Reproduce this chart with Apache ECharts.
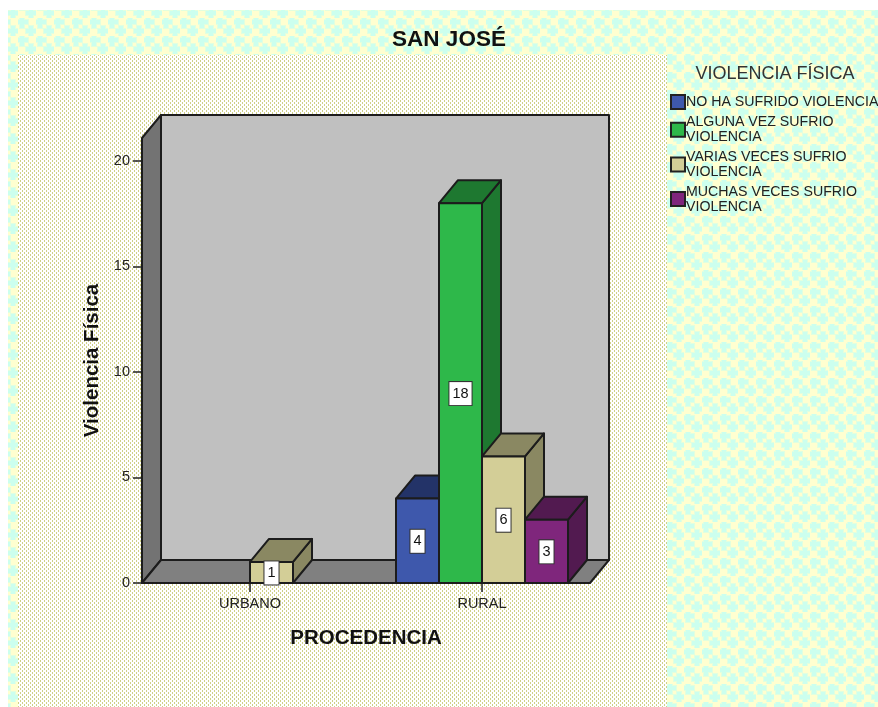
<!DOCTYPE html>
<html>
<head>
<meta charset="utf-8">
<style>html,body{margin:0;padding:0;background:#fff}#c{width:878px;height:707px}</style>
<script src="https://cdn.jsdelivr.net/npm/echarts@6/dist/echarts.min.js"></script>
</head>
<body>
<div id="c"></div>
<script>
const categories = ['URBANO', 'RURAL'];
const noHaSufrido = [null, 4];
const algunaVez = [null, 18];
const variasVeces = [1, 6];
const muchasVeces = [null, 3];
const seriesNames = ['NO HA SUFRIDO VIOLENCIA', 'ALGUNA VEZ SUFRIO\nVIOLENCIA', 'VARIAS VECES SUFRIO\nVIOLENCIA', 'MUCHAS VECES SUFRIO\nVIOLENCIA'];
const yTicks = [0, 5, 10, 15, 20];
const yMax = 21.09;

const FONT = '"Liberation Sans", Arial, sans-serif';
const EDGE = '#1c1c1c';
const DX = 19, DY = 23, BAR_W = 43, INSET = 8;

function outerTile() {
  const c = document.createElement('canvas'); c.width = 18; c.height = 18;
  const g = c.getContext('2d');
  g.fillStyle = '#FFFFD0'; g.fillRect(0, 0, 18, 18);
  [[4, 4], [13, 13]].forEach(([x, y]) => {
    g.fillStyle = '#E2FFDF';
    g.fillRect(x - 6, y - 3, 13, 6);
    g.fillRect(x - 3, y - 6, 6, 13);
  });
  [[4, 4], [13, 13]].forEach(([x, y]) => {
    g.fillStyle = '#CCFFEE';
    g.fillRect(x - 5, y - 2, 11, 4);
    g.fillRect(x - 2, y - 5, 4, 11);
  });
  return c;
}
function innerTile() {
  const c = document.createElement('canvas'); c.width = 4; c.height = 4;
  const g = c.getContext('2d');
  g.fillStyle = '#FFFFFF'; g.fillRect(0, 0, 4, 4);
  g.fillStyle = '#CFD088';
  g.fillRect(0, 0, 1, 2);
  g.fillRect(2, 2, 1, 2);
  return c;
}

function poly(points, fill) {
  return { type: 'polygon', shape: { points }, style: { fill, stroke: EDGE, lineWidth: 2, lineJoin: 'round' } };
}

function renderBox(params, api) {
  const cs = params.coordSys;
  const top = api.coord([0, api.value(1)])[1];
  const bottom = api.coord([0, 0])[1];
  const l = cs.x + INSET, r = cs.x + cs.width - INSET;
  return { type: 'group', children: [
    poly([[l + DX, top - DY], [r + DX, top - DY], [r + DX, bottom - DY], [l + DX, bottom - DY]], '#C0C0C0'),
    poly([[l, top], [l + DX, top - DY], [l + DX, bottom - DY], [l, bottom]], '#737373'),
    poly([[l, bottom], [r, bottom], [r + DX, bottom - DY], [l + DX, bottom - DY]], '#808080')
  ]};
}

function barRenderer(index, front, shade) {
  return function (params, api) {
    const v = api.value(1);
    if (v == null || isNaN(v)) return null;
    const c = api.coord([api.value(0), v]);
    const base = api.coord([api.value(0), 0])[1];
    const x0 = c[0] + (index - 2) * BAR_W, x1 = x0 + BAR_W, y = c[1];
    return { type: 'group', children: [
      poly([[x1, y], [x1 + DX, y - DY], [x1 + DX, base - DY], [x1, base]], shade),
      poly([[x0, y], [x0 + DX, y - DY], [x1 + DX, y - DY], [x1, y]], shade),
      poly([[x0, y], [x1, y], [x1, base], [x0, base]], front),
      { type: 'text', z2: 10, style: {
          x: (x0 + x1) / 2, y: (y + base) / 2 + 0.5, text: String(v), align: 'center', verticalAlign: 'middle',
          fill: '#111', font: '14.5px ' + FONT, backgroundColor: '#fff', borderColor: '#333', borderWidth: 1,
          padding: [4, 3, 4, 3]
      } }
    ]};
  };
}

const palette = [['#3E58AC', '#233368'], ['#2EB84A', '#1E7830'], ['#D3CE97', '#8A8862'], ['#7F267C', '#521A50']];
const values = [noHaSufrido, algunaVez, variasVeces, muchasVeces];

const barSeries = values.map((vals, i) => ({
  type: 'custom',
  name: seriesNames[i],
  itemStyle: { color: palette[i][0] },
  renderItem: barRenderer(i, palette[i][0], palette[i][1]),
  encode: { x: 0, y: 1 },
  data: categories.map((_, k) => [k, vals[k]])
}));

const chart = echarts.init(document.getElementById('c'), null, { renderer: 'canvas' });
chart.setOption({
  animation: false,
  backgroundColor: '#fff',
  graphic: [
    { type: 'rect', z: -10, shape: { x: 8, y: 10, width: 870, height: 697 }, style: { fill: { image: outerTile(), repeat: 'repeat' } } },
    { type: 'rect', z: -9, shape: { x: 18, y: 55, width: 649, height: 652 }, style: { fill: { image: innerTile(), repeat: 'repeat' } } }
  ],
  title: [
    { text: 'SAN JOSÉ', left: 449, top: 28, padding: 0, textAlign: 'center', textStyle: { fontFamily: FONT, fontSize: 22.5, fontWeight: 'bold', color: '#111' } },
    { text: 'VIOLENCIA FÍSICA', left: 775, top: 65, padding: 0, textAlign: 'center', textStyle: { fontFamily: FONT, fontSize: 18, fontWeight: 'normal', color: '#333' } }
  ],
  legend: {
    data: seriesNames, orient: 'vertical', left: 670, top: 94, itemWidth: 14, itemHeight: 14, itemGap: 4.7,
    icon: 'rect', selectedMode: false, padding: 0,
    itemStyle: { borderColor: '#222', borderWidth: 2 },
    textStyle: { fontFamily: FONT, fontSize: 14.2, lineHeight: 15, color: '#222', padding: [0, 0, 0, -4] }
  },
  grid: { left: 134, top: 138, width: 464, height: 445, containLabel: false },
  xAxis: {
    type: 'category', data: categories,
    name: 'PROCEDENCIA', nameLocation: 'middle', nameGap: 45,
    nameTextStyle: { fontFamily: FONT, fontSize: 20.5, fontWeight: 'bold', color: '#111' },
    axisLine: { show: false },
    axisTick: { show: true, alignWithLabel: true, length: 9, lineStyle: { color: '#222', width: 1.5 } },
    axisLabel: { fontFamily: FONT, fontSize: 14.5, color: '#222', margin: 13 }
  },
  yAxis: {
    type: 'value', min: 0, max: yMax, interval: 5, offset: -8,
    name: 'Violencia Física', nameLocation: 'middle', nameGap: 38, nameRotate: 90,
    nameTextStyle: { fontFamily: FONT, fontSize: 20.5, fontWeight: 'bold', color: '#111' },
    splitLine: { show: false },
    axisLine: { show: false },
    axisTick: { show: true, length: 9, customValues: yTicks, lineStyle: { color: '#222', width: 1.5 } },
    axisLabel: { fontFamily: FONT, fontSize: 14.5, color: '#222', margin: 12, customValues: yTicks }
  },
  series: [
    { type: 'custom', name: 'box', silent: true, renderItem: renderBox, encode: { x: 0, y: 1 }, data: [[0, yMax]] }
  ].concat(barSeries)
});
</script>
</body>
</html>
